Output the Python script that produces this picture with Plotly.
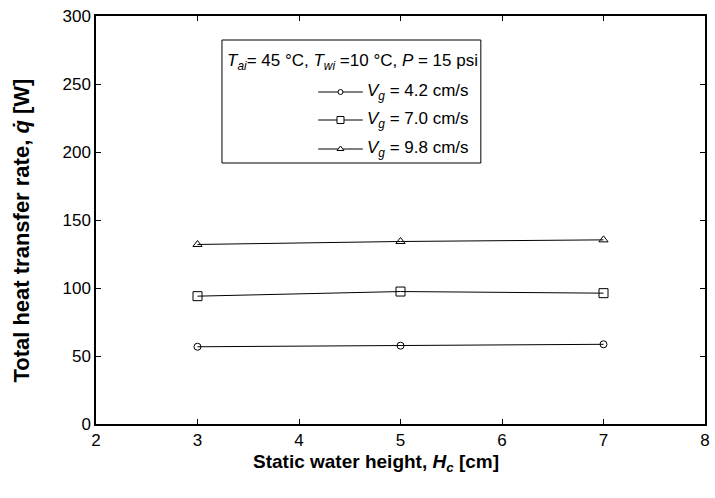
import plotly.graph_objects as go

heights = [3, 5, 7]
q_42 = [56.8, 57.6, 58.6]
q_70 = [94.0, 97.4, 96.2]
q_98 = [132.0, 134.2, 135.4]
series_labels = ["4.2", "7.0", "9.8"]
x_ticks = [2, 3, 4, 5, 6, 7, 8]
y_ticks = [0, 50, 100, 150, 200, 250, 300]

W, H = 715, 498
L, R, T, B = 96, 710, 16, 424
FONT = "Liberation Sans, Arial, sans-serif"


def px(xp):
    return (xp - L) / (R - L)


def py(yp):
    return (B - yp) / (B - T)


fig = go.Figure()
symbols = ["circle-open", "square-open", "triangle-up-open"]
sizes = [7, 9, 8]
for vals, sym, sz in zip([q_42, q_70, q_98], symbols, sizes):
    fig.add_trace(go.Scatter(
        x=heights, y=vals, mode="lines+markers",
        line=dict(color="black", width=1),
        marker=dict(symbol=sym, size=sz, color="black", line=dict(width=1, color="black")),
        showlegend=False, cliponaxis=False,
    ))

# manual legend (pixel-like coordinates on overlay axes)
box = dict(x0=223, x1=484, y0=40, y1=163)
entry_y = [92, 120, 149]
ln_x0, ln_x1 = 320, 365
for yy, sym, sz in zip(entry_y, symbols, sizes):
    fig.add_trace(go.Scatter(
        x=[ln_x0, ln_x1], y=[yy, yy], mode="lines", line=dict(color="black", width=1),
        xaxis="x2", yaxis="y2", showlegend=False, hoverinfo="skip"))
    fig.add_trace(go.Scatter(
        x=[(ln_x0 + ln_x1) / 2], y=[yy], mode="markers",
        marker=dict(symbol=sym.replace("-open", ""), size=sz - 2, color="white",
                    line=dict(width=1, color="black")),
        xaxis="x2", yaxis="y2", showlegend=False, hoverinfo="skip"))

fig.add_shape(type="rect", xref="x2", yref="y2", x0=box["x0"], x1=box["x1"],
              y0=box["y0"], y1=box["y1"], line=dict(color="black", width=1), fillcolor="rgba(0,0,0,0)")

ann = []
ann.append(dict(x=226, y=62, xref="x2", yref="y2", xanchor="left", yanchor="middle", showarrow=False,
                text="<i>T</i><sub><i>ai</i></sub>= 45 °C, <i>T</i><sub><i>wi</i></sub> =10 °C, <i>P</i> = 15 psi",
                font=dict(family=FONT, size=17, color="black")))
for yy, lab in zip(entry_y, series_labels):
    ann.append(dict(x=367, y=yy, xref="x2", yref="y2", xanchor="left", yanchor="middle", showarrow=False,
                    text="<i>V</i><sub><i>g</i></sub> = " + lab + " cm/s",
                    font=dict(family=FONT, size=17, color="black")))

# axis titles
ann.append(dict(x=px(378), y=py(463), xref="paper", yref="paper", xanchor="center", yanchor="middle",
                showarrow=False,
                text="<b>Static water height, <i>H</i><sub><i>c</i></sub> [cm]</b>",
                font=dict(family=FONT, size=19, color="black")))
ann.append(dict(x=px(20), y=py(231), xref="paper", yref="paper", xanchor="center", yanchor="middle",
                showarrow=False, textangle=-90,
                text="<b>Total heat transfer rate, <i>q̇</i> [W]</b>",
                font=dict(family=FONT, size=22, color="black")))

fig.update_layout(
    width=W, height=H,
    margin=dict(l=L, r=W - R, t=T, b=H - B),
    paper_bgcolor="white", plot_bgcolor="white",
    font=dict(family=FONT, size=17, color="black"),
    xaxis=dict(range=[2, 8], tickvals=x_ticks, ticks="inside", ticklen=5, tickcolor="black",
               showline=True, linecolor="black", linewidth=1.5, mirror="ticks", showgrid=False,
               zeroline=False, tickfont=dict(size=17)),
    yaxis=dict(range=[0, 300], tickvals=y_ticks, ticks="inside", ticklen=5, tickcolor="black",
               showline=True, linecolor="black", linewidth=1.5, mirror="ticks", showgrid=False,
               zeroline=False, tickfont=dict(size=17)),
    xaxis2=dict(overlaying="x", range=[L, R], visible=False, fixedrange=True),
    yaxis2=dict(overlaying="y", range=[B, T], visible=False, fixedrange=True),
    annotations=ann,
)

fig.write_html("out.html", config={"displayModeBar": False},
               post_script="document.body.style.margin='0';")
